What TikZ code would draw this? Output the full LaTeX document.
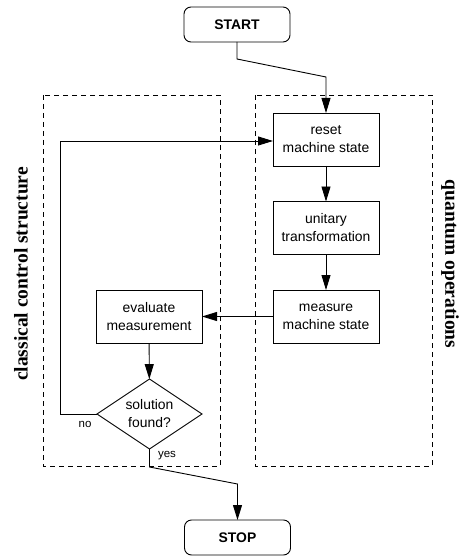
\documentclass[tikz,border=0pt]{standalone}
\usepackage{fontspec}
\setmainfont{Liberation Serif}
\newfontfamily\boxfont{Liberation Sans}
\usetikzlibrary{shapes.geometric,arrows.meta}
\begin{document}
\begin{tikzpicture}[x=1pt,y=-1pt,
  every node/.style={inner sep=0pt,outer sep=0pt},
  proc/.style={draw,line width=0.9pt,minimum width=106pt,minimum height=53pt,align=center,font=\boxfont\fontsize{13.9}{18}\selectfont},
  term/.style={draw,line width=0.9pt,rounded corners=7pt,minimum width=106pt,minimum height=35pt,font=\boxfont\bfseries\fontsize{13.9}{16}\selectfont},
  dec/.style={draw,line width=0.9pt,diamond,aspect=1.5,minimum width=105pt,minimum height=70pt,align=center,font=\boxfont\fontsize{13.9}{18}\selectfont},
  grp/.style={draw,dashed,line width=0.8pt,dash pattern=on 5pt off 4pt},
  flow/.style={line width=0.9pt,-{Triangle[length=15pt,width=9pt]}},
  small/.style={font=\boxfont\fontsize{11.5}{13}\selectfont},
  side/.style={font=\bfseries\fontsize{19.5}{22}\selectfont}]
\useasboundingbox (0,0) rectangle (460,556);
\draw[grp] (43,95) rectangle (220,466);
\draw[grp] (255,95) rectangle (432,466);
\node[term] (start) at (237,24.5) {START};
\node[proc] (reset) at (326,139.5) {reset\\machine state};
\node[proc] (unit) at (326,228) {unitary\\transformation};
\node[proc] (meas) at (326,316.5) {measure\\machine state};
\node[proc] (eval) at (149,316.5) {evaluate\\measurement};
\node[dec] (sol) at (149.5,414) {solution\\found?};
\node[term] (stop) at (237.5,537.5) {STOP};
\coordinate (a1) at (237,59);
\coordinate (a2) at (326,77);
\coordinate (b1) at (60,414);
\coordinate (b2) at (60,141);
\coordinate (c1) at (149.5,467);
\coordinate (c2) at (237.5,484);
\draw[flow] (start.south) -- (a1) -- (a2) -- (reset.north);
\draw[flow] (reset) -- (unit);
\draw[flow] (unit) -- (meas);
\draw[flow] (meas) -- (eval);
\draw[flow] (eval) -- (sol);
\draw[flow] (sol.west) -- (b1) -- (b2) -- (reset.west|-b2);
\draw[flow] (sol.south) -- (c1) -- (c2) -- (stop.north);
\node[small] (no) at (85,424) {no};
\node[small] (yes) at (167,456) {yes};
\node[side,rotate=90] (cl) at (21,274) {classical control structure};
\node[side,rotate=-90] (qo) at (450,264) {quantum operations};
\end{tikzpicture}
\end{document}
